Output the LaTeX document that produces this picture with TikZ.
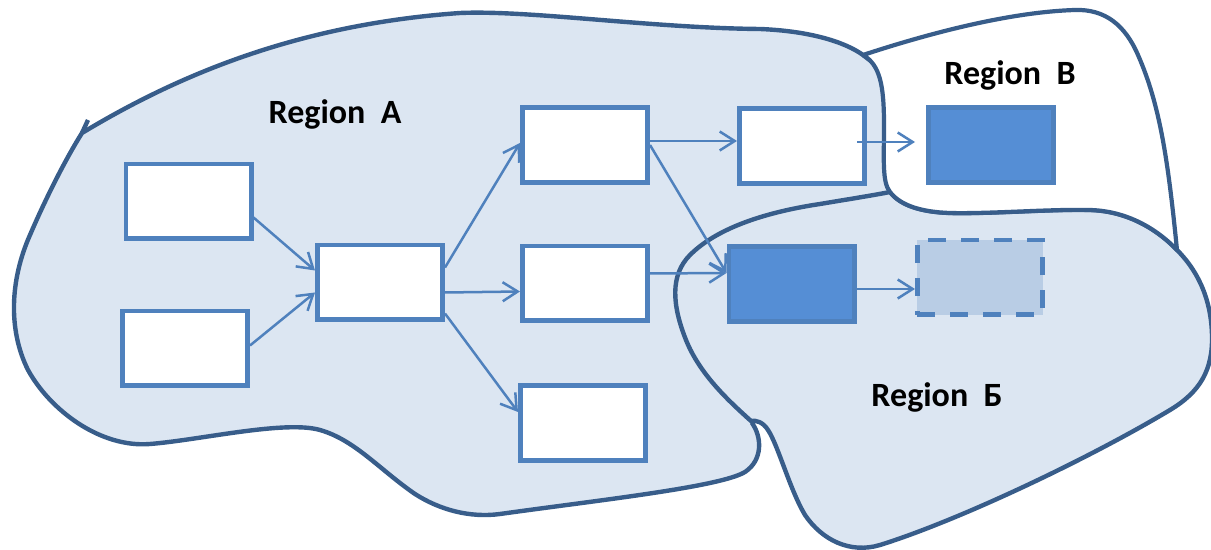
\documentclass[tikz,border=0pt]{standalone}
\usepackage{fontspec}
\setmainfont{Carlito}
\usetikzlibrary{arrows.meta,calc}
\definecolor{areafill}{RGB}{220,230,242}
\definecolor{arealine}{RGB}{56,93,138}
\definecolor{boxline}{RGB}{79,129,189}
\definecolor{darkfill}{RGB}{85,142,213}
\definecolor{ghostfill}{RGB}{185,205,229}
\begin{document}
\begin{tikzpicture}[x=0.5pt,y=-0.5pt,
  area/.style={fill=areafill,draw=arealine,line width=2.2pt,line join=round},
  areawhite/.style={fill=white,draw=arealine,line width=2.1pt,line join=round},
  boxbase/.style={rectangle,line width=2.3pt,minimum width=62.7pt,minimum height=37.3pt,inner sep=0pt},
  blankbox/.style={boxbase,draw=boxline,fill=white},
  darkbox/.style={boxbase,draw=boxline,fill=darkfill},
  ghostbox/.style={boxbase,draw=boxline,fill=ghostfill,dash pattern=on 9pt off 7.5pt},
  link/.style={draw=boxline,line width=1.25pt,-{Straight Barb[length=7.5pt,width=9.5pt]}},
  lbl/.style={font=\bfseries\fontsize{17}{20}\selectfont,anchor=base,inner sep=0pt}
]
\useasboundingbox (0,0) rectangle (1211,550);

% region A (large area on the left)
\path[area] (82,133) .. controls (170,80) and (290,25) .. (460,13)
  .. controls (530,10) and (650,28) .. (760,29)
  .. controls (810,31) and (845,42) .. (863,55)
  -- (915,95) -- (915,200) -- (850,300) -- (780,400) -- (752,423)
  .. controls (762,437) and (763,460) .. (745,472)
  .. controls (720,487) and (600,500) .. (500,514)
  .. controls (470,518) and (440,510) .. (415,494)
  .. controls (380,470) and (355,440) .. (320,430)
  .. controls (285,420) and (200,440) .. (150,444)
  .. controls (100,448) and (50,410) .. (28,370)
  .. controls (8,330) and (10,280) .. (30,235)
  .. controls (45,200) and (65,160) .. (82,133) -- cycle;
\draw[draw=arealine,line width=2.2pt] (82,133) -- (88,120);

% region Б (lower right)
\path[area] (890,192) .. controls (900,205) and (920,212) .. (950,213)
  .. controls (990,214) and (1050,209) .. (1090,210)
  .. controls (1130,211) and (1160,232) .. (1177,250)
  .. controls (1195,268) and (1211,295) .. (1212,335)
  .. controls (1213,370) and (1200,392) .. (1170,410)
  .. controls (1090,458) and (960,520) .. (880,545)
  .. controls (850,554) and (822,540) .. (805,515)
  .. controls (790,490) and (778,445) .. (768,430)
  .. controls (763,422) and (756,420) .. (751,421)
  .. controls (730,402) and (700,375) .. (686,340)
  .. controls (672,305) and (670,275) .. (690,255)
  .. controls (715,230) and (760,213) .. (820,204)
  .. controls (850,199) and (875,195) .. (890,192) -- cycle;

% region B (upper right)
\path[areawhite] (863,55) .. controls (930,33) and (1010,12) .. (1075,10)
  .. controls (1105,9) and (1125,25) .. (1138,55)
  .. controls (1160,105) and (1168,160) .. (1177,250)
  .. controls (1160,232) and (1130,211) .. (1090,210)
  .. controls (1050,209) and (990,214) .. (950,213)
  .. controls (920,212) and (900,205) .. (890,192)
  .. controls (882,182) and (884,160) .. (884,125)
  .. controls (884,85) and (880,65) .. (863,55) -- cycle;

% boxes
\node[blankbox] (b1) at (188.5,201.5) {};
\node[blankbox] (b2) at (185,348.5) {};
\node[blankbox] (b3) at (380,282.5) {};
\node[blankbox] (b4) at (585,145) {};
\node[blankbox] (b5) at (585,283.5) {};
\node[blankbox] (b6) at (583,423) {};
\node[blankbox] (b7) at (802,146) {};
\node[darkbox]  (b8) at (791.5,284) {};
\node[darkbox]  (b9) at (991,145) {};
\node[ghostbox] (b10) at (980,277.5) {};

% connectors
\draw[link] ($(b1.east)+(0,16)$) -- ($(b3.west)+(0,-12)$);
\draw[link] ($(b2.east)+(0,-3)$) -- ($(b3.west)+(0,10)$);
\draw[link] ($(b3.east)+(0,-15)$) -- ($(b4.west)+(0,-2)$);
\draw[link] ($(b3.east)+(0,10)$) -- ($(b5.west)+(0,8)$);
\draw[link] ($(b3.east)+(0,31)$) -- ($(b6.west)+(0,-11)$);
\draw[link] ($(b4.east)+(0,-4)$) -- ($(b7.west)+(0,-5)$);
\draw[link] ($(b4.east)+(0,0)$) -- ($(b8.west)+(0,-11)$);
\draw[link] ($(b5.east)+(0,-10)$) -- ($(b8.west)+(0,-11)$);
\draw[link] ($(b7.east)+(-10,-4)$) -- ($(b9.west)+(-11,-3)$);
\draw[link] ($(b8.east)+(0,5)$) -- ($(b10.west)+(0,11.5)$);

% labels
\node[lbl] (la) at (335,124) {Region\ \ A};
\node[lbl] (lb) at (1010,85) {Region\ \ B};
\node[lbl] (lc) at (937,407) {Region\ \ Б};
\end{tikzpicture}
\end{document}
